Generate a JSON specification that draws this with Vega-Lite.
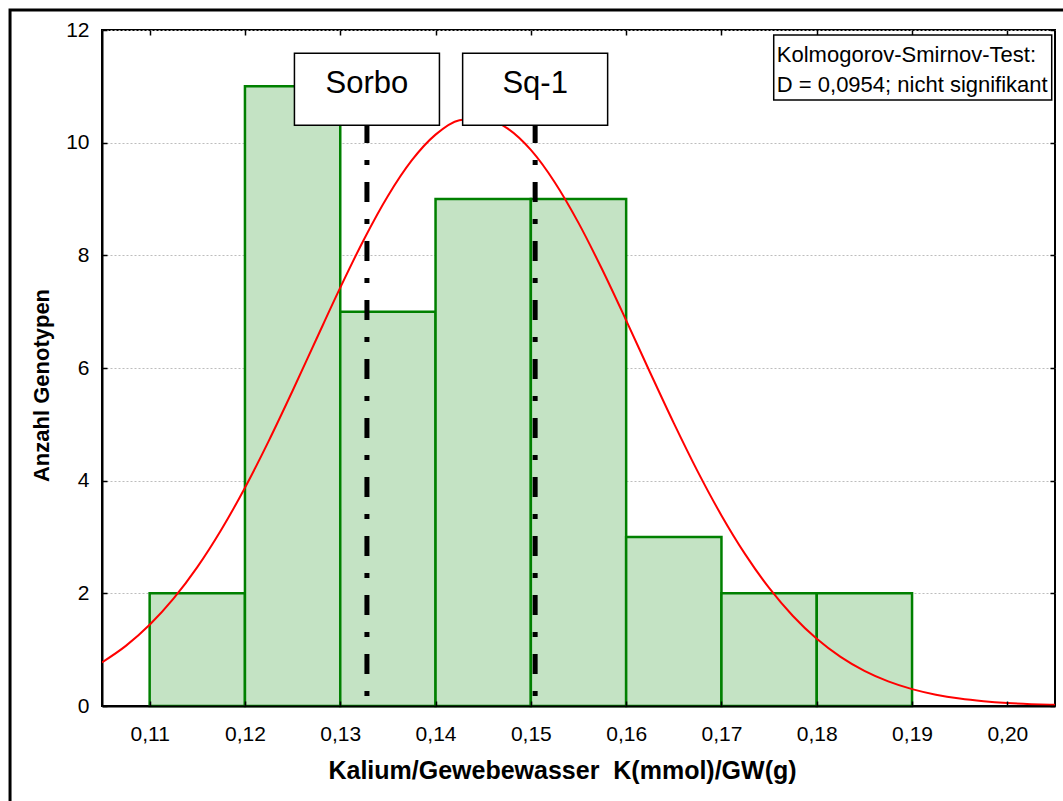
{
  "$schema": "https://vega.github.io/schema/vega-lite/v6.json",
  "width": 953,
  "height": 676,
  "autosize": {"type": "none"},
  "padding": {"left": 102, "top": 30, "right": 8, "bottom": 95},
  "background": "white",
  "config": {
    "font": "Liberation Sans",
    "view": {"stroke": "black", "strokeWidth": 2},
    "axis": {
      "labelFont": "Liberation Sans",
      "labelColor": "black",
      "titleFont": "Liberation Sans",
      "titleFontWeight": "bold",
      "titleColor": "black",
      "domainColor": "black",
      "domainWidth": 2,
      "tickColor": "black",
      "tickWidth": 1.5
    }
  },
  "datasets": {
    "bins": [
      {"von": 0.11, "bis": 0.12, "anzahl": 2},
      {"von": 0.12, "bis": 0.13, "anzahl": 11},
      {"von": 0.13, "bis": 0.14, "anzahl": 7},
      {"von": 0.14, "bis": 0.15, "anzahl": 9},
      {"von": 0.15, "bis": 0.16, "anzahl": 9},
      {"von": 0.16, "bis": 0.17, "anzahl": 3},
      {"von": 0.17, "bis": 0.18, "anzahl": 2},
      {"von": 0.18, "bis": 0.19, "anzahl": 2}
    ],
    "normal": [
      {"k": 0.105, "n": 0.774}, {"k": 0.1075, "n": 1.067}, {"k": 0.11, "n": 1.441},
      {"k": 0.1125, "n": 1.905}, {"k": 0.115, "n": 2.465}, {"k": 0.1175, "n": 3.124},
      {"k": 0.12, "n": 3.875}, {"k": 0.1225, "n": 4.707}, {"k": 0.125, "n": 5.596},
      {"k": 0.1275, "n": 6.515}, {"k": 0.13, "n": 7.426}, {"k": 0.1325, "n": 8.287},
      {"k": 0.135, "n": 9.054}, {"k": 0.1375, "n": 9.685}, {"k": 0.14, "n": 10.143},
      {"k": 0.1425, "n": 10.399}, {"k": 0.145, "n": 10.439}, {"k": 0.1475, "n": 10.259},
      {"k": 0.15, "n": 9.871}, {"k": 0.1525, "n": 9.298}, {"k": 0.155, "n": 8.576},
      {"k": 0.1575, "n": 7.743}, {"k": 0.16, "n": 6.846}, {"k": 0.1625, "n": 5.925},
      {"k": 0.165, "n": 5.021}, {"k": 0.1675, "n": 4.165}, {"k": 0.17, "n": 3.383},
      {"k": 0.1725, "n": 2.691}, {"k": 0.175, "n": 2.095}, {"k": 0.1775, "n": 1.597},
      {"k": 0.18, "n": 1.192}, {"k": 0.1825, "n": 0.871}, {"k": 0.185, "n": 0.623},
      {"k": 0.1875, "n": 0.436}, {"k": 0.19, "n": 0.299}, {"k": 0.1925, "n": 0.201},
      {"k": 0.195, "n": 0.132}, {"k": 0.1975, "n": 0.085}, {"k": 0.2, "n": 0.053},
      {"k": 0.2025, "n": 0.033}, {"k": 0.205, "n": 0.02}
    ],
    "sorten": [
      {"sorte": "Sorbo", "k": 0.1328},
      {"sorte": "Sq-1", "k": 0.15045}
    ]
  },
  "layer": [
    {
      "data": {"name": "bins"},
      "mark": {"type": "rect", "fill": "#c4e3c4", "stroke": "#008000", "strokeWidth": 2.5},
      "encoding": {
        "x": {
          "field": "von", "type": "quantitative",
          "scale": {"domain": [0.105, 0.205], "nice": false, "zero": false},
          "axis": {
            "orient": "bottom",
            "values": [0.11, 0.12, 0.13, 0.14, 0.15, 0.16, 0.17, 0.18, 0.19, 0.2],
            "labelExpr": "replace(format(datum.value, '.2f'), '.', ',')",
            "labelFontSize": 21,
            "tickSize": -5,
            "labelPadding": 22,
            "grid": false,
            "zindex": 1,
            "title": "Kalium/Gewebewasser\u00a0 K(mmol)/GW(g)",
            "titleFontSize": 25,
            "titleX": 460,
            "titlePadding": 14
          }
        },
        "x2": {"field": "bis"},
        "y": {
          "field": "anzahl", "type": "quantitative",
          "scale": {"domain": [0, 12], "nice": false},
          "axis": {
            "orient": "left",
            "values": [0, 2, 4, 6, 8, 10, 12],
            "labelFontSize": 21,
            "tickSize": -5,
            "labelPadding": 18,
            "grid": true,
            "gridColor": "#bdbdbd",
            "gridDash": [2, 2],
            "gridWidth": 1,
            "title": "Anzahl Genotypen",
            "titleFontSize": 22,
            "titleY": 355,
            "titlePadding": 12
          }
        },
        "y2": {"datum": 0}
      }
    },
    {
      "data": {"name": "normal"},
      "mark": {"type": "line", "color": "#ff0000", "strokeWidth": 2, "clip": true, "interpolate": "monotone"},
      "encoding": {
        "x": {
          "field": "k", "type": "quantitative",
          "axis": {"orient": "top", "values": [0.11, 0.12, 0.13, 0.14, 0.15, 0.16, 0.17, 0.18, 0.19, 0.2], "labels": false, "domain": false, "tickSize": -5, "grid": false, "title": null}
        },
        "y": {
          "field": "n", "type": "quantitative",
          "axis": {"orient": "right", "values": [0, 2, 4, 6, 8, 10, 12], "labels": false, "domain": false, "tickSize": -5, "grid": false, "title": null}
        }
      }
    },
    {
      "data": {"name": "sorten"},
      "mark": {"type": "rule", "color": "black", "strokeWidth": 5, "strokeDash": [5, 17, 20, 17], "strokeCap": "butt"},
      "encoding": {
        "x": {"field": "k", "type": "quantitative", "axis": null},
        "y": {"datum": 0.1775, "type": "quantitative", "axis": null},
        "y2": {"datum": 10.314}
      }
    },
    {
      "data": {"name": "sorten"},
      "mark": {
        "type": "point",
        "shape": "M-1,-0.4966H1V0.4966H-1Z",
        "size": 21025,
        "filled": true,
        "fill": "white",
        "stroke": "black",
        "strokeWidth": 1.5,
        "opacity": 1
      },
      "encoding": {
        "x": {"field": "k", "type": "quantitative", "axis": null},
        "y": {"datum": 10.95, "type": "quantitative", "axis": null}
      }
    },
    {
      "data": {"name": "sorten"},
      "mark": {"type": "text", "font": "Liberation Sans", "fontSize": 31, "color": "black", "align": "center", "baseline": "middle"},
      "encoding": {
        "x": {"field": "k", "type": "quantitative", "axis": null},
        "y": {"datum": 11.04, "type": "quantitative", "axis": null},
        "text": {"field": "sorte"}
      }
    },
    {
      "data": {"values": [{"test": "Kolmogorov-Smirnov-Test"}]},
      "mark": {
        "type": "point",
        "shape": "M-1,-0.2338H1V0.2338H-1Z",
        "size": 77284,
        "filled": true,
        "fill": "white",
        "stroke": "black",
        "strokeWidth": 1.5,
        "opacity": 1
      },
      "encoding": {
        "x": {"datum": 0.19007, "type": "quantitative", "axis": null},
        "y": {"datum": 11.335, "type": "quantitative", "axis": null}
      }
    },
    {
      "data": {"values": [{"zeile": "Kolmogorov-Smirnov-Test:"}]},
      "mark": {"type": "text", "font": "Liberation Sans", "fontSize": 22, "color": "black", "align": "left", "baseline": "middle"},
      "encoding": {
        "x": {"datum": 0.17581, "type": "quantitative", "axis": null},
        "y": {"datum": 11.557, "type": "quantitative", "axis": null},
        "text": {"field": "zeile"}
      }
    },
    {
      "data": {"values": [{"zeile": "D = 0,0954; nicht signifikant"}]},
      "mark": {"type": "text", "font": "Liberation Sans", "fontSize": 22, "color": "black", "align": "left", "baseline": "middle"},
      "encoding": {
        "x": {"datum": 0.17581, "type": "quantitative", "axis": null},
        "y": {"datum": 11.024, "type": "quantitative", "axis": null},
        "text": {"field": "zeile"}
      }
    },
    {
      "data": {"values": [{"rahmen": 1}]},
      "mark": {"type": "rect", "fill": null, "fillOpacity": 0, "stroke": "black", "strokeWidth": 3, "clip": false},
      "encoding": {
        "x": {"datum": 0.09535, "type": "quantitative", "axis": null},
        "x2": {"datum": 0.2068},
        "y": {"datum": -2.6, "type": "quantitative", "axis": null},
        "y2": {"datum": 12.355}
      }
    }
  ],
  "resolve": {"axis": {"x": "independent", "y": "independent"}}
}
